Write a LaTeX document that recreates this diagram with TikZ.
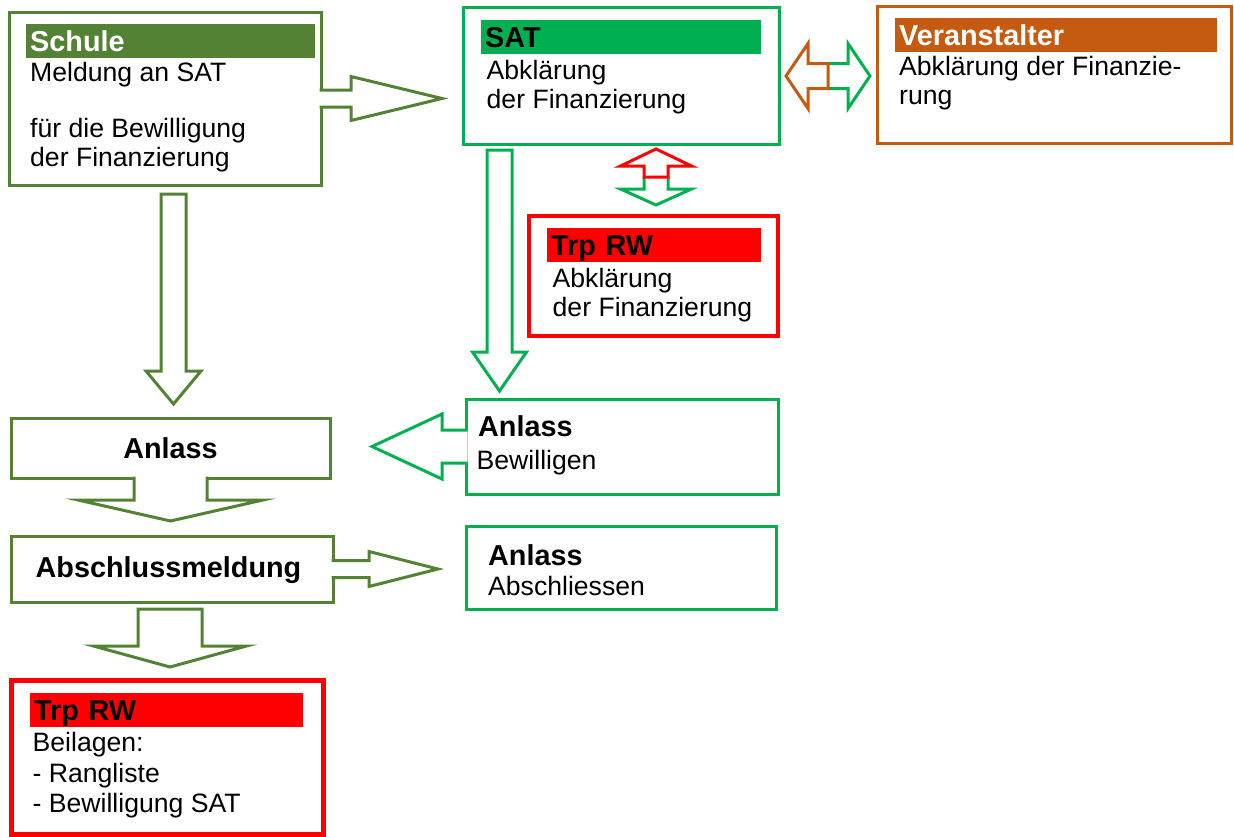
\documentclass[tikz,border=0pt]{standalone}
\usepackage{fontspec}
\setmainfont{Liberation Sans}
\usepackage{tikz}
\usepackage{xcolor}
\usetikzlibrary{calc,positioning}
\definecolor{schulegreen}{RGB}{84,130,53}
\definecolor{satgreen}{RGB}{0,176,80}
\definecolor{vaorange}{RGB}{197,90,17}
\definecolor{trpred}{RGB}{255,0,0}

\begin{document}
\begin{tikzpicture}[x=1bp, y=-1bp,
    box/.style={draw, line width=3bp, anchor=north west, outer sep=0pt, inner sep=0pt},
    hdr/.style={anchor=north west, inner xsep=4bp, inner ysep=0pt, minimum height=33.5bp,
        text height=22bp, text depth=1.5bp, align=left, font=\fontsize{28.8bp}{32bp}\selectfont\bfseries},
    txt/.style={anchor=base west, inner sep=0pt, align=left, font=\fontsize{26.6bp}{29bp}\selectfont},
    ttl/.style={inner sep=0pt, font=\fontsize{28.8bp}{32bp}\selectfont\bfseries},
    blk/.style={line width=3bp, fill=white, line join=miter}]

    \useasboundingbox (0,0) rectangle (1234,837);

    % Schule (base = letzte Zeile)
    \node[box, draw=schulegreen, minimum width=312bp, minimum height=173bp] (schule) at (9,12) {};
    \node[hdr, fill=schulegreen, text=white, text width=281bp] (schulehdr) at (26,24) {Schule};
    \node[txt] (schuletxt) at (30,166.7) {Meldung an SAT\\[27bp]für die Bewilligung\\der Finanzierung};

    % SAT
    \node[box, draw=satgreen, minimum width=316bp, minimum height=137bp] (sat) at (463,7) {};
    \node[hdr, fill=satgreen, text width=272bp] (sathdr) at (481,20) {SAT};
    \node[txt] (sattxt) at (486.5,108.3) {Abklärung\\der Finanzierung};

    % Veranstalter
    \node[box, draw=vaorange, minimum width=354.5bp, minimum height=137bp] (veranst) at (877,6) {};
    \node[hdr, fill=vaorange, text=white, text width=314bp] (veransthdr) at (895,18) {Veranstalter};
    \node[txt] (veransttxt) at (899,104) {Abklärung der Finanzie-\\rung};

    % Trp RW (Finanzierung)
    \node[box, draw=trpred, line width=3.5bp, minimum width=249bp, minimum height=120bp] (trpmid) at (529,216) {};
    \node[hdr, fill=trpred, text width=206bp] (trpmidhdr) at (547,228) {Trp RW};
    \node[txt] (trpmidtxt) at (552.5,316) {Abklärung\\der Finanzierung};

    % Anlass links
    \node[box, draw=schulegreen, minimum width=319bp, minimum height=60bp] (anlassl) at (11,418) {};
    \node[ttl, anchor=base] (anlassltxt) at (170.5,458.3) {Anlass};

    % Anlass bewilligen
    \node[box, draw=satgreen, minimum width=312bp, minimum height=95bp] (bewill) at (466,399) {};
    \node[ttl, anchor=base west] (bewillttl) at (478,436.7) {Anlass};
    \node[txt] (bewilltxt) at (476.5,469.3) {Bewilligen};

    % Abschlussmeldung
    \node[box, draw=schulegreen, minimum width=322bp, minimum height=66bp] (meldung) at (11,536) {};
    \node[ttl, anchor=base] (meldungtxt) at (168.5,577.3) {Abschlussmeldung};

    % Anlass abschliessen
    \node[box, draw=satgreen, minimum width=310bp, minimum height=83bp] (abschl) at (466,526) {};
    \node[ttl, anchor=base west] (abschlttl) at (488,565) {Anlass};
    \node[txt] (abschltxt) at (488,595) {Abschliessen};

    % Trp RW (Beilagen)
    \node[box, draw=trpred, line width=5bp, minimum width=312bp, minimum height=154bp] (trpbot) at (11,680.5) {};
    \node[hdr, fill=trpred, text width=265bp] (trpbothdr) at (30,693) {Trp RW};
    \node[txt] (trpbottxt) at (32.5,812.7) {Beilagen:\\[2bp]- Rangliste\\[1bp]- Bewilligung SAT};

    % Blockpfeile
    \draw[blk, draw=schulegreen] ($(schule.east)+(-1.5,-8.5)$) -- ++(31.5,0) -- ++(0,-13.5)
        -- ++(91,22) -- ++(-91,22) -- ++(0,-13.5) -- ++(-31.5,0);
    \draw[blk, draw=schulegreen] ($(schule.south)+(-4,9)$) -- ++(25,0) -- ++(0,177) -- ++(15,0)
        -- ++(-27.5,33) -- ++(-27.5,-33) -- ++(15,0) -- cycle;
    \draw[blk, draw=schulegreen] ($(anlassl.south)+(-36.5,-1.5)$) -- ++(0,23.5) -- ++(-56,0)
        -- ++(92.5,21) -- ++(92.5,-21) -- ++(-56,0) -- ++(0,-23.5);
    \draw[blk, draw=schulegreen] ($(meldung.east)+(-1.5,-8.5)$) -- ++(37.5,0) -- ++(0,-9)
        -- ++(69,17.5) -- ++(-69,17.5) -- ++(0,-9) -- ++(-37.5,0);
    \draw[blk, draw=schulegreen] ($(meldung.south)+(-34,7)$) -- ++(64,0) -- ++(0,37) -- ++(44.5,0)
        -- ++(-76.5,21) -- ++(-76.5,-21) -- ++(44.5,0) -- cycle;
    \draw[blk, draw=satgreen] ($(bewill.west)+(1.5,-16.5)$) -- ++(-25.5,0) -- ++(0,-16)
        -- ++(-70,32.5) -- ++(70,32.5) -- ++(0,-16) -- ++(25.5,0);
    \draw[blk, draw=satgreen] ($(sat.south)+(-134,6)$) -- ++(25,0) -- ++(0,202) -- ++(14.5,0)
        -- ++(-27,39) -- ++(-27,-39) -- ++(14.5,0) -- cycle;

    % Doppelpfeile
    \coordinate (hmid) at ($(sat.east)!0.5!(veranst.west)+(0,1)$);
    \draw[blk, draw=satgreen] ($(hmid)+(0,-12.5)$) -- ++(20,0) -- ++(0,-20) -- ++(22,32.5)
        -- ++(-22,32.5) -- ++(0,-20) -- ++(-20,0);
    \draw[blk, draw=vaorange] ($(hmid)+(0,-12.5)$) -- ++(-20,0) -- ++(0,-20) -- ++(-22,32.5)
        -- ++(22,32.5) -- ++(0,-20) -- ++(20,0) -- cycle;
    \coordinate (vmid) at ($(sat.south -| trpmid.north)!0.5!(trpmid.north)+(2.5,-3)$);
    \draw[blk, draw=satgreen] ($(vmid)+(-12,0)$) -- ++(0,12) -- ++(-23.5,0) -- ++(35.5,16)
        -- ++(35.5,-16) -- ++(-23.5,0) -- ++(0,-12);
    \draw[blk, draw=trpred] ($(vmid)+(-12,0)$) -- ++(0,-11) -- ++(-23.5,0) -- ++(35.5,-17)
        -- ++(35.5,17) -- ++(-23.5,0) -- ++(0,11) -- cycle;
\end{tikzpicture}
\end{document}
